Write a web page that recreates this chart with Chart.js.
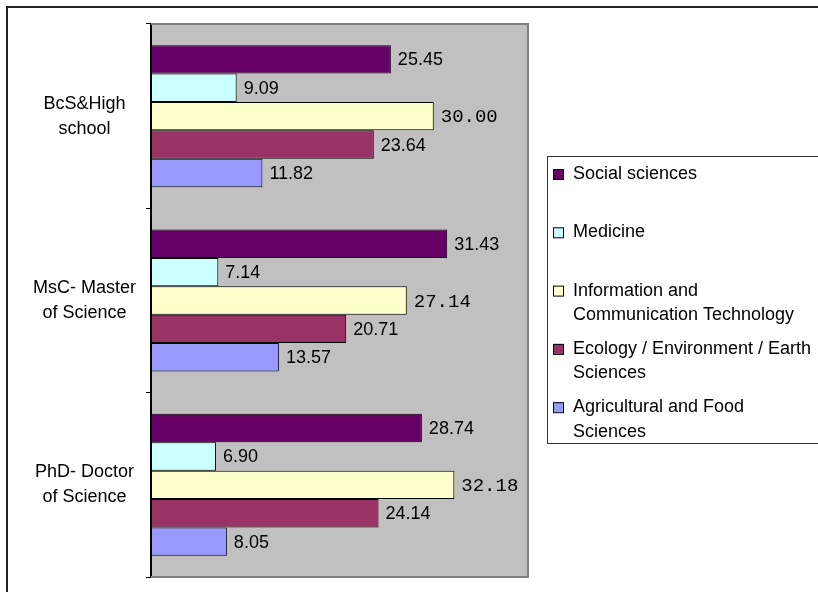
<!DOCTYPE html>
<html>
<head>
<meta charset="utf-8">
<script src="https://cdn.jsdelivr.net/npm/chart.js@4.4.0/dist/chart.umd.min.js"></script>
<style>
  html, body { margin: 0; padding: 0; background: #fff; }
  #wrap { width: 818px; height: 592px; }
</style>
</head>
<body>
<div id="wrap"><canvas id="degreeChart" width="818" height="592"></canvas></div>
<script>
// Share (%) of each field per degree level
const categories = [['BcS&High', 'school'], ['MsC- Master', 'of Science'], ['PhD- Doctor', 'of Science']];
const seriesNames = [
    'Social sciences',
    'Medicine',
    'Information and Communication Technology',
    'Ecology / Environment / Earth Sciences',
    'Agricultural and Food Sciences'
];
const socialSciences = [25.45, 31.43, 28.74];
const medicine = [9.09, 7.14, 6.90];
const ictValues = [30.00, 27.14, 32.18];
const ecology = [23.64, 20.71, 24.14];
const agriculture = [11.82, 13.57, 8.05];
const seriesColors = ['#660066', '#CCFFFF', '#FFFFCC', '#993366', '#9999FF'];
const axisMin = 0;
const axisMax = 40;

const SANS = 'Arial, "Liberation Sans", sans-serif';
const MONO = '"Courier New", "Liberation Mono", monospace';

// ============================================
// PLUGINS
// ============================================

// white page, outer frame and grey plot area
const backdrop = {
    id: 'backdrop',
    beforeDraw(chart) {
        const { ctx, chartArea: a } = chart;
        ctx.save();
        ctx.fillStyle = '#fff';
        ctx.fillRect(0, 0, chart.width, chart.height);
        ctx.strokeStyle = '#222';
        ctx.lineWidth = 2;
        ctx.strokeRect(7, 7, chart.width + 20, chart.height + 20);
        ctx.fillStyle = '#C0C0C0';
        ctx.fillRect(a.left, a.top, a.right - a.left, a.bottom - a.top);
        ctx.restore();
    },
    beforeDatasetsDraw(chart) {
        const { ctx, chartArea: a } = chart;
        ctx.save();
        ctx.strokeStyle = '#808080';
        ctx.lineWidth = 2;
        ctx.beginPath();
        ctx.moveTo(a.left, a.top);
        ctx.lineTo(a.right, a.top);
        ctx.lineTo(a.right, a.bottom);
        ctx.lineTo(a.left, a.bottom);
        ctx.stroke();
        ctx.restore();
    }
};

// value printed right of every bar
const valueLabels = {
    id: 'valueLabels',
    afterDatasetsDraw(chart) {
        const ctx = chart.ctx;
        ctx.save();
        ctx.fillStyle = '#000';
        ctx.textAlign = 'left';
        ctx.textBaseline = 'middle';
        chart.data.datasets.forEach((ds, i) => {
            ctx.font = i === 2 ? '19px ' + MONO : '18px ' + SANS;
            chart.getDatasetMeta(i).data.forEach((bar, j) => {
                ctx.fillText(ds.data[j].toFixed(2), bar.x + 7, bar.y + 1);
            });
        });
        ctx.restore();
    }
};

function wrapText(ctx, text, maxWidth) {
    const words = text.split(' ');
    const lines = [];
    let line = '';
    words.forEach(w => {
        const test = line ? line + ' ' + w : w;
        if (line && ctx.measureText(test).width > maxWidth) {
            lines.push(line);
            line = w;
        } else {
            line = test;
        }
    });
    if (line) lines.push(line);
    return lines;
}

// boxed legend on the right
const sideLegend = {
    id: 'sideLegend',
    afterDraw(chart) {
        const ctx = chart.ctx;
        const box = { x: 547.5, y: 156.5, w: 300, h: 287 };
        ctx.save();
        ctx.strokeStyle = '#333';
        ctx.lineWidth = 1;
        ctx.strokeRect(box.x, box.y, box.w, box.h);

        ctx.font = '18px ' + SANS;
        ctx.textAlign = 'left';
        ctx.textBaseline = 'middle';
        let y = 174;
        chart.data.datasets.forEach(ds => {
            ctx.fillStyle = ds.backgroundColor;
            ctx.fillRect(553, y - 5, 10, 10);
            ctx.strokeStyle = '#000';
            ctx.strokeRect(553.5, y - 4.5, 10, 10);
            ctx.fillStyle = '#000';
            const lines = wrapText(ctx, ds.label, 248);
            lines.forEach((ln, k) => ctx.fillText(ln, 573, y + k * 24.5));
            y += 58.3;
        });
        ctx.restore();
    }
};

// ============================================
// CHART
// ============================================

const seriesValues = [socialSciences, medicine, ictValues, ecology, agriculture];

new Chart(document.getElementById('degreeChart'), {
    type: 'bar',
    data: {
        labels: categories,
        datasets: seriesValues.map((vals, i) => ({
            label: seriesNames[i],
            data: vals,
            backgroundColor: seriesColors[i],
            borderColor: '#000',
            borderWidth: 1,
            borderSkipped: false,
            categoryPercentage: 0.77,
            barPercentage: 1
        }))
    },
    options: {
        indexAxis: 'y',
        responsive: false,
        devicePixelRatio: 1,
        animation: false,
        layout: {
            padding: { left: 0, top: 24, right: 290, bottom: 15 }
        },
        plugins: {
            legend: { display: false },
            tooltip: { enabled: false }
        },
        scales: {
            x: {
                display: false,
                min: axisMin,
                max: axisMax
            },
            y: {
                offset: true,
                afterFit(scale) {
                    // fixed label column, no extra room for the wrapped labels
                    scale.width = 151;
                    scale.paddingTop = 0;
                    scale.paddingBottom = 0;
                },
                border: { display: true, color: '#000', width: 2 },
                grid: {
                    offset: true,
                    drawOnChartArea: false,
                    drawTicks: true,
                    tickLength: 5,
                    color: '#000',
                    lineWidth: 1
                },
                ticks: {
                    color: '#000',
                    crossAlign: 'center',
                    padding: 10,
                    font: { family: SANS, size: 18, lineHeight: 1.4 }
                }
            }
        }
    },
    plugins: [backdrop, valueLabels, sideLegend]
});
</script>
</body>
</html>
